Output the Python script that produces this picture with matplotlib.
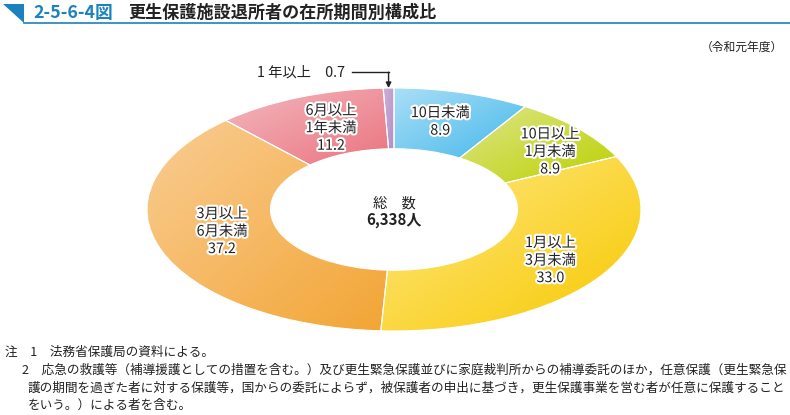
import numpy as np
import matplotlib
matplotlib.use("Agg")
import matplotlib.pyplot as plt
import matplotlib.patheffects as pe
from matplotlib.colors import to_rgb
from matplotlib.patches import Polygon

plt.rcParams['font.family'] = ['Noto Sans CJK JP', 'DejaVu Sans']

# data (%)
categories = ['10日未満', '10日以上\n1月未満', '1月以上\n3月未満', '3月以上\n6月未満',
              '6月以上\n1年未満', '1年以上']
shares = [8.9, 8.9, 33.0, 37.2, 11.2, 0.7]
total_label = '6,338人'
light = ['#aadff7', '#dde68a', '#fee886', '#f9cd93', '#f4b8be', '#cdb0d8']
dark = ['#45b8ea', '#bcd000', '#f8c900', '#f3a535', '#ea7480', '#b48ec4']

W, H = 790, 415
fig = plt.figure(figsize=(W / 100, H / 100), dpi=100)

# overlay in pixel coordinates for title, notes
bg = fig.add_axes([0, 0, 1, 1])
bg.set_xlim(0, W)
bg.set_ylim(H, 0)
bg.axis('off')

blue = '#1b82bd'
bg.add_patch(Polygon([[3, 4], [24, 4], [24, 23]], closed=True, color=blue, lw=0))
bg.plot([24, W], [23.5, 23.5], color=blue, lw=1.2)
bg.text(33, 13, '2-5-6-4図', color=blue, fontsize=12.8, fontweight='bold', va='center')
bg.text(128, 13, '更生保護施設退所者の在所期間別構成比', color='#222222', fontsize=12.3,
        fontweight='bold', va='center')
bg.text(783, 47, '（令和元年度）', fontsize=8.5, ha='right', va='center', color='#222222')

notes = [
    (5, 352, '注　1　法務省保護局の資料による。'),
    (22, 370, '2　応急の救護等（補導援護としての措置を含む。）及び更生緊急保護並びに家庭裁判所からの補導委託のほか，任意保護（更生緊急保'),
    (28, 388, '護の期間を過ぎた者に対する保護等，国からの委託によらず，被保護者の申出に基づき，更生保護事業を営む者が任意に保護すること'),
    (28, 405, 'をいう。）による者を含む。'),
]
for x, y, s in notes:
    bg.text(x, y, s, fontsize=9.1, va='center', color='#222222')

# donut axes spanning the ellipse bounding box
ax = fig.add_axes([147 / W, 1 - 331 / H, 494 / W, 243 / H])
wedges, _ = ax.pie(shares, startangle=90, counterclock=False, radius=1,
                   wedgeprops=dict(width=0.5, edgecolor='white', linewidth=0.8))
ax.set_aspect('auto')

# diagonal gradient fill per wedge
n = 64
u, v = np.meshgrid(np.linspace(0, 1, n), np.linspace(0, 1, n))
t = (u + v) / 2  # 0 upper-left -> 1 lower-right (image origin upper)
for w, c0, c1 in zip(wedges, light, dark):
    bb = w.get_path().get_extents()
    c0, c1 = np.array(to_rgb(c0)), np.array(to_rgb(c1))
    img = c0[None, None, :] * (1 - t[..., None]) + c1[None, None, :] * t[..., None]
    im = ax.imshow(img, extent=[bb.x0, bb.x1, bb.y0, bb.y1], origin='upper',
                   interpolation='bilinear', aspect='auto', zorder=1)
    im.set_clip_path(w)
    w.set_facecolor('none')
    w.set_zorder(2)
ax.set_xlim(-1, 1)
ax.set_ylim(-1, 1)

stroke = [pe.withStroke(linewidth=3, foreground='white')]
# (radius, angle nudge in degrees) for each label
label_pos = [(0.745, 1.5), (0.79, -5), (0.76, 0), (0.72, -5.3), (0.716, -1.8)]
for w, cat, val, (r, da) in zip(wedges[:5], categories[:5], shares[:5], label_pos):
    ang = np.deg2rad((w.theta1 + w.theta2) / 2 + da)
    ax.text(r * np.cos(ang), r * np.sin(ang), f'{cat}\n{val:.1f}', ha='center',
            va='center', fontsize=10.3, linespacing=1.32, color='#222222',
            path_effects=stroke, zorder=5)

# callout for the small slice
w = wedges[5]
ang = np.deg2rad((w.theta1 + w.theta2) / 2)
tip = (np.cos(ang), np.sin(ang))
ax.annotate('', xy=tip, xytext=(tip[0], 1.13), zorder=5,
            arrowprops=dict(arrowstyle='-|>', color='#222222', lw=1, mutation_scale=8,
                            shrinkA=0, shrinkB=0), annotation_clip=False)
ax.plot([-0.17, tip[0]], [1.13, 1.13], color='#222222', lw=1, clip_on=False)
ax.text(-0.2, 1.13, f'1 年以上　{shares[5]:.1f}', ha='right', va='center',
        fontsize=10.3, color='#222222')

# centre total
ax.text(0, 0.05, '総　数', ha='center', va='center', fontsize=10.3, color='#222222')
ax.text(0, -0.085, total_label, ha='center', va='center', fontsize=10.8,
        fontweight='bold', color='#222222')

fig.savefig('out.png', dpi=100)
